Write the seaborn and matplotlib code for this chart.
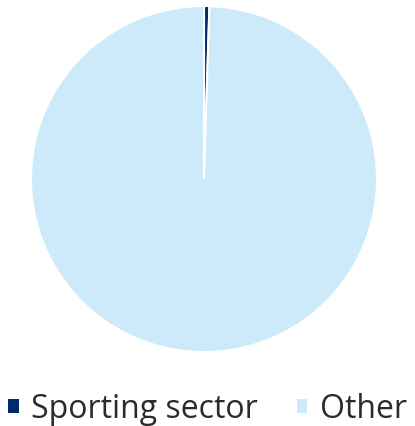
import matplotlib
matplotlib.use("Agg")
import matplotlib.pyplot as plt
import seaborn as sns
from matplotlib.patches import Patch

categories = ["Sporting sector", "Other"]
values = [0.5, 99.5]
colors = ["#002a6a", "#cdeafb"]

sns.set_theme(style="white")
plt.rcParams["font.family"] = ["Open Sans", "DejaVu Sans"]

fig = plt.figure(figsize=(4.15, 4.27), dpi=100)
ax = fig.add_axes([(204 - 173) / 415, (427 - 180 - 173) / 427, 346 / 415, 346 / 427])
ax.pie(values, colors=colors, startangle=90, counterclock=False, radius=1,
       wedgeprops=dict(edgecolor="white", linewidth=1.5))
ax.set_xlim(-1, 1)
ax.set_ylim(-1, 1)
ax.set_aspect("equal")
ax.axis("off")

handles = [Patch(facecolor=c, edgecolor="none") for c in colors]
fig.legend(handles, categories, loc="center", bbox_to_anchor=(0.5, 0.04), ncol=2,
           frameon=False, fontsize=23, handlelength=0.32, handleheight=0.32,
           handletextpad=0.4, columnspacing=1.2, labelcolor="#2b2b2b",
           borderaxespad=0, borderpad=0)

fig.savefig("out.png", dpi=100)
